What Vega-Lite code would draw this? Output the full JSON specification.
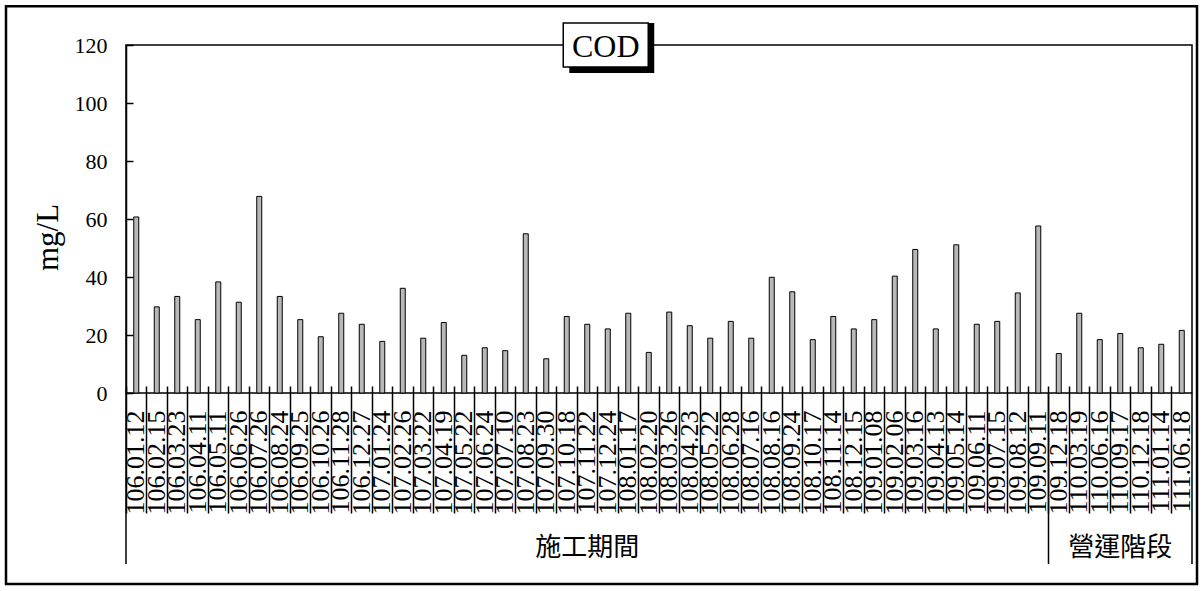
{
  "$schema": "https://vega.github.io/schema/vega-lite/v6.json",
  "width": 1066,
  "height": 348,
  "autosize": "none",
  "padding": {"left": 126, "top": 45, "right": 11, "bottom": 198},
  "background": "white",
  "config": {"view": {"stroke": "black", "strokeWidth": 1.5}, "font": "Liberation Serif"},
  "data": {"values": [
    {"date": "106.01.12", "cod": 60.7, "phase": "施工期間"},
    {"date": "106.02.15", "cod": 29.7, "phase": "施工期間"},
    {"date": "106.03.23", "cod": 33.3, "phase": "施工期間"},
    {"date": "106.04.11", "cod": 25.3, "phase": "施工期間"},
    {"date": "106.05.11", "cod": 38.3, "phase": "施工期間"},
    {"date": "106.06.26", "cod": 31.3, "phase": "施工期間"},
    {"date": "106.07.26", "cod": 67.8, "phase": "施工期間"},
    {"date": "106.08.24", "cod": 33.3, "phase": "施工期間"},
    {"date": "106.09.25", "cod": 25.3, "phase": "施工期間"},
    {"date": "106.10.26", "cod": 19.4, "phase": "施工期間"},
    {"date": "106.11.28", "cod": 27.5, "phase": "施工期間"},
    {"date": "106.12.27", "cod": 23.7, "phase": "施工期間"},
    {"date": "107.01.24", "cod": 17.8, "phase": "施工期間"},
    {"date": "107.02.26", "cod": 36.1, "phase": "施工期間"},
    {"date": "107.03.22", "cod": 18.9, "phase": "施工期間"},
    {"date": "107.04.19", "cod": 24.3, "phase": "施工期間"},
    {"date": "107.05.22", "cod": 13.0, "phase": "施工期間"},
    {"date": "107.06.24", "cod": 15.6, "phase": "施工期間"},
    {"date": "107.07.10", "cod": 14.6, "phase": "施工期間"},
    {"date": "107.08.23", "cod": 54.9, "phase": "施工期間"},
    {"date": "107.09.30", "cod": 11.8, "phase": "施工期間"},
    {"date": "107.10.18", "cod": 26.4, "phase": "施工期間"},
    {"date": "107.11.22", "cod": 23.7, "phase": "施工期間"},
    {"date": "107.12.24", "cod": 22.1, "phase": "施工期間"},
    {"date": "108.01.17", "cod": 27.5, "phase": "施工期間"},
    {"date": "108.02.20", "cod": 14.0, "phase": "施工期間"},
    {"date": "108.03.26", "cod": 27.9, "phase": "施工期間"},
    {"date": "108.04.23", "cod": 23.2, "phase": "施工期間"},
    {"date": "108.05.22", "cod": 18.9, "phase": "施工期間"},
    {"date": "108.06.28", "cod": 24.7, "phase": "施工期間"},
    {"date": "108.07.16", "cod": 18.9, "phase": "施工期間"},
    {"date": "108.08.16", "cod": 39.9, "phase": "施工期間"},
    {"date": "108.09.24", "cod": 34.9, "phase": "施工期間"},
    {"date": "108.10.17", "cod": 18.4, "phase": "施工期間"},
    {"date": "108.11.14", "cod": 26.4, "phase": "施工期間"},
    {"date": "108.12.15", "cod": 22.1, "phase": "施工期間"},
    {"date": "109.01.08", "cod": 25.3, "phase": "施工期間"},
    {"date": "109.02.06", "cod": 40.3, "phase": "施工期間"},
    {"date": "109.03.16", "cod": 49.5, "phase": "施工期間"},
    {"date": "109.04.13", "cod": 22.1, "phase": "施工期間"},
    {"date": "109.05.14", "cod": 51.1, "phase": "施工期間"},
    {"date": "109.06.11", "cod": 23.7, "phase": "施工期間"},
    {"date": "109.07.15", "cod": 24.7, "phase": "施工期間"},
    {"date": "109.08.12", "cod": 34.5, "phase": "施工期間"},
    {"date": "109.09.11", "cod": 57.6, "phase": "施工期間"},
    {"date": "109.12.18", "cod": 13.6, "phase": "營運階段"},
    {"date": "110.03.19", "cod": 27.5, "phase": "營運階段"},
    {"date": "110.06.16", "cod": 18.4, "phase": "營運階段"},
    {"date": "110.09.17", "cod": 20.5, "phase": "營運階段"},
    {"date": "110.12.18", "cod": 15.6, "phase": "營運階段"},
    {"date": "111.01.14", "cod": 16.8, "phase": "營運階段"},
    {"date": "111.06.18", "cod": 21.6, "phase": "營運階段"}
  ]},
  "layer": [
    {
      "mark": {"type": "bar", "width": 5, "fill": "#b8b8b8", "stroke": "black", "strokeWidth": 1},
      "encoding": {
        "x": {
          "field": "date", "type": "nominal", "sort": null,
          "scale": {"paddingInner": 0, "paddingOuter": 0},
          "axis": {
            "title": null, "bandPosition": 0, "offset": -7, "domain": false,
            "ticks": true, "tickSize": 127, "tickWidth": 1.5, "tickColor": "black",
            "labelAngle": 270, "labelFontSize": 26, "labelFont": "Liberation Serif",
            "labelColor": "black", "labelPadding": -103, "labelOverlap": false,
            "labelAlign": "right", "labelBaseline": "middle"
          }
        },
        "y": {
          "field": "cod", "type": "quantitative",
          "scale": {"domain": [0, 120], "nice": false},
          "axis": {
            "title": "mg/L", "values": [0, 20, 40, 60, 80, 100, 120], "grid": false,
            "tickSize": -7, "tickWidth": 1.5, "tickColor": "black",
            "domainColor": "black", "domainWidth": 1.5,
            "labelFontSize": 22, "labelFont": "Liberation Serif", "labelColor": "black", "labelPadding": 26,
            "titleFontSize": 31, "titleFont": "Liberation Serif", "titleFontWeight": "normal", "titleColor": "black",
            "titleX": -62, "titleY": 192, "titleBaseline": "bottom"
          }
        }
      }
    },
    {
      "transform": [{"filter": {"field": "date", "oneOf": ["106.01.12", "109.12.18"]}}],
      "mark": {"type": "rule", "stroke": "black", "strokeWidth": 1.5},
      "encoding": {
        "x": {"field": "date", "type": "nominal", "bandPosition": 0},
        "y": {"datum": 0},
        "y2": {"datum": -59}
      }
    },
    {
      "transform": [{"filter": {"field": "date", "equal": "111.06.18"}}],
      "mark": {"type": "rule", "stroke": "black", "strokeWidth": 1.5},
      "encoding": {
        "x": {"field": "date", "type": "nominal", "bandPosition": 1},
        "y": {"datum": 0},
        "y2": {"datum": -59}
      }
    },
    {
      "transform": [{"filter": {"field": "date", "oneOf": ["107.11.22", "110.09.17"]}}],
      "mark": {"type": "text", "font": "Noto Sans CJK TC", "fontSize": 26, "color": "black", "baseline": "middle", "align": "center"},
      "encoding": {
        "x": {"field": "date", "type": "nominal"},
        "y": {"datum": -53.4},
        "text": {"field": "phase"}
      }
    },
    {
      "transform": [{"filter": {"field": "date", "equal": "107.12.24"}}],
      "mark": {"type": "bar", "width": 85, "fill": "black", "xOffset": 4, "yOffset": 6},
      "encoding": {
        "x": {"field": "date", "type": "nominal"},
        "y": {"datum": 112.4},
        "y2": {"datum": 127.6}
      }
    },
    {
      "transform": [{"filter": {"field": "date", "equal": "107.12.24"}}],
      "mark": {"type": "bar", "width": 85, "fill": "white", "stroke": "black", "strokeWidth": 1.5, "xOffset": -2},
      "encoding": {
        "x": {"field": "date", "type": "nominal"},
        "y": {"datum": 112.4},
        "y2": {"datum": 127.6}
      }
    },
    {
      "transform": [{"filter": {"field": "date", "equal": "107.12.24"}}],
      "mark": {"type": "text", "text": "COD", "font": "Liberation Serif", "fontSize": 32, "color": "black", "baseline": "middle", "align": "center", "xOffset": -2},
      "encoding": {
        "x": {"field": "date", "type": "nominal"},
        "y": {"datum": 119.3}
      }
    },
    {
      "transform": [{"filter": {"field": "date", "equal": "106.01.12"}}],
      "mark": {"type": "rect", "fill": null, "fillOpacity": 0, "stroke": "black", "strokeWidth": 2.5, "xOffset": -120, "x2Offset": 15.25},
      "encoding": {
        "x": {"field": "date", "type": "nominal", "bandPosition": 0},
        "x2": {"datum": "111.06.18"},
        "y": {"datum": 133.4},
        "y2": {"datum": -65.9}
      }
    }
  ]
}
